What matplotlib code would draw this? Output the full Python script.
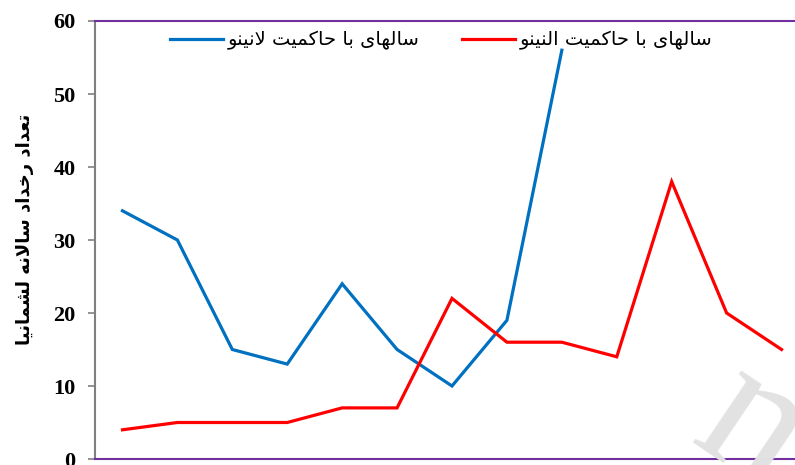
import matplotlib.pyplot as plt
import numpy as np

# data
la_nina = [34, 30, 15, 13, 24, 15, 10, 19, 56]
el_nino = [4, 5, 5, 5, 7, 7, 22, 16, 16, 14, 38, 20, 15]
label_la_nina = 'سالهای با حاکمیت لانینو'
label_el_nino = 'سالهای با حاکمیت النینو'
y_label = 'تعداد رخداد سالانه لشمانیا'
y_ticks = [0, 10, 20, 30, 40, 50, 60]

# matplotlib does no Arabic shaping, so join letters by hand
# forms: isolated, final, initial, medial (None = does not join forward)
FORMS = {
    'ا': (0xFE8D, 0xFE8E, None, None), 'ب': (0xFE8F, 0xFE90, 0xFE91, 0xFE92),
    'ت': (0xFE95, 0xFE96, 0xFE97, 0xFE98), 'ح': (0xFEA1, 0xFEA2, 0xFEA3, 0xFEA4),
    'خ': (0xFEA5, 0xFEA6, 0xFEA7, 0xFEA8), 'د': (0xFEA9, 0xFEAA, None, None),
    'ر': (0xFEAD, 0xFEAE, None, None), 'س': (0xFEB1, 0xFEB2, 0xFEB3, 0xFEB4),
    'ش': (0xFEB5, 0xFEB6, 0xFEB7, 0xFEB8), 'ع': (0xFEC9, 0xFECA, 0xFECB, 0xFECC),
    'ل': (0xFEDD, 0xFEDE, 0xFEDF, 0xFEE0), 'م': (0xFEE1, 0xFEE2, 0xFEE3, 0xFEE4),
    'ن': (0xFEE5, 0xFEE6, 0xFEE7, 0xFEE8), 'ه': (0xFEE9, 0xFEEA, 0xFEEB, 0xFEEC),
    'و': (0xFEED, 0xFEEE, None, None), 'ی': (0xFBFC, 0xFBFD, 0xFBFE, 0xFBFF),
    'ک': (0xFB8E, 0xFB8F, 0xFB90, 0xFB91), 'LA': (0xFEFB, 0xFEFC, None, None),
}


def shape(text):
    chars = []
    i = 0
    while i < len(text):
        if text[i] == 'ل' and i + 1 < len(text) and text[i + 1] == 'ا':
            chars.append('LA')
            i += 2
        else:
            chars.append(text[i])
            i += 1
    out = []
    for k, c in enumerate(chars):
        if c not in FORMS:
            out.append(c)
            continue
        prev = chars[k - 1] if k > 0 else None
        nxt = chars[k + 1] if k + 1 < len(chars) else None
        joins_prev = prev in FORMS and FORMS[prev][2] is not None
        joins_next = FORMS[c][2] is not None and nxt in FORMS
        f = FORMS[c]
        if joins_prev and joins_next:
            code = f[3]
        elif joins_prev:
            code = f[1]
        elif joins_next:
            code = f[2]
        else:
            code = f[0]
        out.append(chr(code))
    return ''.join(out)[::-1]


fig = plt.figure(figsize=(7.95, 4.65), dpi=100)
ax = fig.add_axes([95 / 795, 6 / 465, (809 - 95) / 795, (459 - 21) / 465])

x_la = np.arange(1, len(la_nina) + 1)
x_el = np.arange(1, len(el_nino) + 1)
ax.plot(x_la, la_nina, color='#0070C0', lw=2.3, label=shape(label_la_nina),
        solid_joinstyle='miter')
ax.plot(x_el, el_nino, color='#FF0000', lw=2.3, label=shape(label_el_nino),
        solid_joinstyle='miter')

ax.set_xlim(0.5, len(el_nino) + 0.5)
ax.set_ylim(0, 60)
ax.set_yticks(y_ticks)
ax.set_yticklabels([str(v) for v in y_ticks], family='Liberation Serif',
                   fontweight='bold', fontsize=16)
ax.tick_params(axis='y', length=5, width=1.2, color='#808080', pad=9)
ax.set_xticks([])

ax.spines['left'].set_color('#808080')
ax.spines['left'].set_linewidth(1.5)
for s in ['top', 'bottom']:
    ax.spines[s].set_color('#7030A0')
    ax.spines[s].set_linewidth(1.5)
ax.spines['right'].set_visible(False)

ax.set_ylabel(shape(y_label), family='DejaVu Sans', fontweight='bold',
              fontsize=13)
ax.yaxis.set_label_coords(-0.085, 0.525)

leg = ax.legend(loc='upper center', bbox_to_anchor=(0.485, 1.018), ncol=2,
                frameon=False, prop={'family': 'DejaVu Sans', 'size': 14},
                handlelength=2.7, handletextpad=0.26, columnspacing=2.2)

# watermark in the lower right corner
fig.text(752 / 795, 1 - 430 / 465, 'n', fontsize=135, family='Liberation Serif',
         color='#e2e2e2', rotation=-34, ha='center', va='center', zorder=0)

fig.savefig('out.png', dpi=100)
